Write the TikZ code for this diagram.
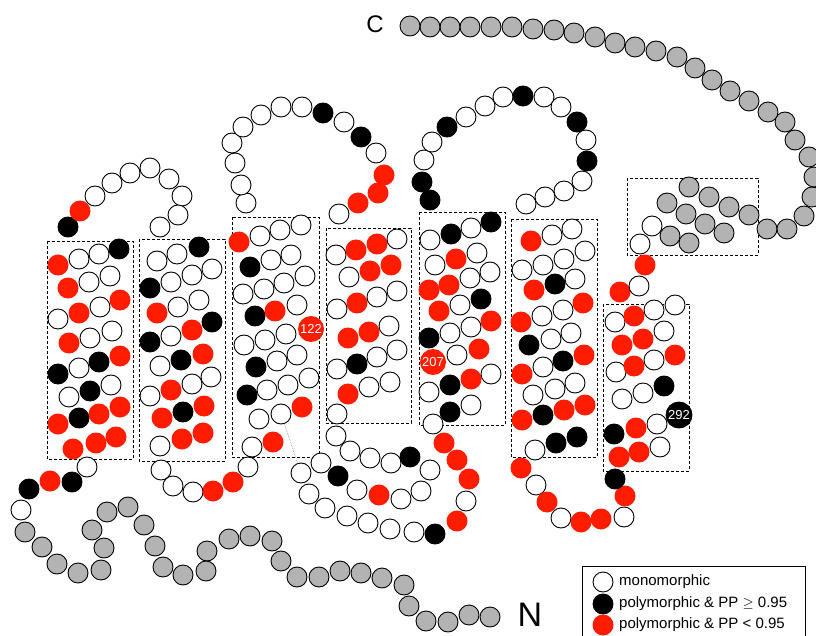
\documentclass[tikz,border=0pt]{standalone}
\usepackage{fontspec}
\setmainfont{Liberation Sans}
\usepackage{tikz}
\definecolor{resred}{RGB}{255,28,0}
\definecolor{tailgray}{RGB}{179,179,179}

\begin{document}
\begin{tikzpicture}[x=1pt,y=-1pt,
    res/.style={circle,inner sep=0pt,minimum size=20pt,line width=0.9pt},
    wt/.style={res,draw=black,fill=white},
    bk/.style={res,draw=black,fill=black},
    rd/.style={res,fill=resred,minimum size=21pt},
    gy/.style={res,draw=black,fill=tailgray},
    num/.style={minimum size=26pt,text=white,font=\fontsize{13}{13}\selectfont},
    tmbox/.style={line width=0.8pt,dash pattern=on 3pt off 2pt}]
  \useasboundingbox (0,0) rectangle (816,636);
  % helix boxes
  \foreach \xa/\ya/\xb/\yb in {47/241/133/459, 139/239/225/461, 232/217/319/457, 326/228/411/423,
      419/212/505/425, 511/219/597/457, 603/304/689/471, 627/178/758/255}
    \draw[tmbox] (\xa,\ya) rectangle (\xb,\yb);
  % N-terminus
  \foreach \x/\y [count=\i] in {490/617, 469/615, 448/622, 426/621, 409/606, 404/585, 382/578, 361/573,
      340/571, 319/577, 297/577, 281/561, 272/541, 250/536, 229/539, 207/551, 206/571, 183/575,
      163/567, 155/546, 144/525, 128/507, 107/512, 92/530, 104/548, 101/570, 78/573, 57/564,
      42/547, 25/532}
    \node[gy] (nt-\i) at (\x,\y) {};
  \foreach \x/\y/\s [count=\i] in {21/510/wt, 29/489/bk, 50/481/rd, 72/482/bk, 87/467/wt}
    \node[\s] (nl-\i) at (\x,\y) {};
  % TM1 and loop
  \foreach \x/\y/\s [count=\i] in {58/265/rd, 79/259/wt, 99/254/wt, 119/249/bk,
      68/288/rd, 89/282/wt, 110/276/wt,
      58/319/wt, 79/313/rd, 100/307/wt, 120/300/rd,
      69/343/rd, 90/338/wt, 112/331/wt,
      58/374/bk, 79/368/wt, 99/362/bk, 120/356/rd,
      69/397/wt, 90/391/bk, 111/385/wt,
      58/424/rd, 79/418/bk, 99/414/rd, 120/407/rd,
      73/449/rd, 96/443/rd, 116/437/rd}
    \node[\s] (tm1-\i) at (\x,\y) {};
  \foreach \x/\y/\s [count=\i] in {68/227/bk, 80/211/rd, 95/196/wt, 112/183/wt, 130/173/wt,
      150/168/wt, 169/179/wt, 182/196/wt, 178/215/wt, 160/227/wt}
    \node[\s] (l1-\i) at (\x,\y) {};
  % TM2 and loop
  \foreach \x/\y/\s [count=\i] in {157/261/wt, 177/254/wt, 199/247/bk,
      150/288/bk, 171/282/wt, 192/275/wt, 212/269/wt,
      157/313/rd, 178/307/wt, 199/300/wt,
      150/342/bk, 171/336/wt, 192/330/rd, 212/322/bk,
      160/366/wt, 181/360/bk, 203/354/rd,
      150/396/wt, 171/390/rd, 192/384/wt, 211/377/wt,
      162/418/rd, 183/412/bk, 204/406/rd,
      160/446/wt, 182/439/rd, 203/433/rd}
    \node[\s] (tm2-\i) at (\x,\y) {};
  \foreach \x/\y/\s [count=\i] in {161/470/wt, 173/486/wt, 193/492/wt, 213/491/rd, 233/482/rd, 248/467/wt}
    \node[\s] (l2-\i) at (\x,\y) {};
  % TM3 and loop
  \foreach \x/\y/\s [count=\i] in {239/242/rd, 260/236/wt, 280/230/wt, 301/225/wt,
      250/267/bk, 271/260/wt, 291/255/wt,
      243/294/wt, 264/289/wt, 284/283/wt, 305/276/wt,
      255/316/bk, 275/311/rd, 297/305/wt,
      244/345/wt, 265/340/wt, 286/334/wt,
      256/367/bk, 277/361/wt, 297/355/wt,
      247/395/bk, 267/390/wt, 288/385/wt, 309/378/wt,
      259/419/wt, 302/407/rd,
      252/447/wt, 273/442/rd}
    \node[\s] (tm3-\i) at (\x,\y) {};
  \node[rd,num] (r122) at (311,329) {122};
  \node[wt] (tm3cys) at (281,414) {};
  \foreach \x/\y/\s [count=\i] in {246/203/wt, 241/185/wt, 235/163/wt, 232/143/wt, 243/127/wt,
      261/115/wt, 281/107/wt, 302/107/wt, 323/113/bk, 344/122/wt, 361/137/bk, 376/153/wt,
      384/175/rd, 378/193/rd, 358/203/rd, 339/214/wt}
    \node[\s] (l3-\i) at (\x,\y) {};
  % TM4 and loop
  \foreach \x/\y/\s [count=\i] in {336/255/wt, 356/250/rd, 377/244/rd, 397/239/wt,
      349/277/wt, 370/271/rd, 391/265/rd,
      337/309/wt, 357/303/rd, 377/297/wt, 397/291/wt,
      348/338/rd, 369/332/rd, 389/326/wt,
      337/369/wt, 357/364/bk, 377/357/wt, 397/350/wt,
      348/394/rd, 369/387/wt, 390/382/wt,
      337/414/wt}
    \node[\s] (tm4-\i) at (\x,\y) {};
  \node[wt] (loopcys) at (301,473) {};
  \foreach \x/\y/\s [count=\i] in {336/436/wt, 350/451/wt, 370/458/wt, 391/463/wt, 410/457/bk,
      430/470/wt, 421/491/wt, 401/499/wt, 379/495/rd, 357/490/wt, 338/476/bk, 321/463/wt,
      309/494/wt, 325/508/wt, 347/516/wt, 368/523/wt, 390/529/wt, 414/532/wt, 435/534/bk,
      457/521/rd, 466/501/wt, 469/479/rd, 457/460/rd, 444/443/rd, 433/424/wt}
    \node[\s] (l4-\i) at (\x,\y) {};
  \draw[gray,line width=0.6pt,densely dotted] (tm3cys) -- (loopcys);
  % TM5 and loop
  \foreach \x/\y/\s [count=\i] in {430/240/wt, 451/234/bk, 471/228/wt, 491/222/bk,
      435/265/wt, 456/259/rd, 477/253/wt,
      429/290/rd, 449/285/rd, 470/278/wt, 490/272/wt,
      439/311/rd, 460/305/wt, 481/299/bk,
      429/338/bk, 450/333/wt, 471/327/wt, 491/321/rd,
      457/355/wt, 479/349/rd,
      429/392/wt, 450/385/bk, 471/379/rd, 491/374/wt,
      450/412/bk, 471/405/wt}
    \node[\s] (tm5-\i) at (\x,\y) {};
  \node[rd,num] (r207) at (433,362) {207};
  \foreach \x/\y/\s [count=\i] in {430/200/bk, 422/182/bk, 424/160/wt, 432/142/wt, 447/127/bk,
      466/117/wt, 485/106/wt, 503/97/wt, 523/96/bk, 544/97/wt, 561/107/wt, 577/122/bk,
      586/140/wt, 587/161/bk, 582/181/wt, 564/191/wt, 545/197/wt, 526/204/wt}
    \node[\s] (l5-\i) at (\x,\y) {};
  % TM6 and loop
  \foreach \x/\y/\s [count=\i] in {531/241/rd, 552/235/wt, 572/229/wt,
      522/270/wt, 543/265/wt, 564/259/wt, 585/251/wt,
      534/290/rd, 555/284/bk, 575/279/wt,
      521/322/rd, 542/316/wt, 563/310/wt, 583/303/rd,
      529/345/bk, 551/339/wt, 571/333/wt,
      522/374/rd, 543/367/wt, 563/361/bk, 584/355/rd,
      533/395/wt, 555/389/wt, 575/383/wt,
      522/420/rd, 543/415/bk, 564/410/rd, 585/405/rd,
      535/450/wt, 556/443/bk, 577/437/bk}
    \node[\s] (tm6-\i) at (\x,\y) {};
  \foreach \x/\y/\s [count=\i] in {521/468/rd, 536/485/wt, 547/502/rd, 561/518/wt, 581/522/rd,
      601/519/rd, 624/517/wt, 625/496/rd, 615/479/bk}
    \node[\s] (l6-\i) at (\x,\y) {};
  % TM7, helix 8 and C-terminus
  \foreach \x/\y/\s [count=\i] in {615/322/wt, 634/316/rd, 654/310/wt, 675/305/wt,
      622/345/rd, 643/339/rd, 664/331/wt,
      616/372/wt, 634/366/rd, 654/360/wt, 675/355/rd,
      622/399/wt, 643/393/wt, 664/386/bk,
      614/434/bk, 636/428/rd, 657/424/wt,
      619/457/rd, 639/452/rd, 660/447/wt}
    \node[\s] (tm7-\i) at (\x,\y) {};
  \node[bk,num] (r292) at (679,415) {292};
  \foreach \x/\y/\s [count=\i] in {620/292/rd, 639/286/wt, 645/265/rd, 640/244/wt, 652/226/wt}
    \node[\s] (l7-\i) at (\x,\y) {};
  \foreach \x/\y [count=\i] in {670/236, 689/243, 667/203, 686/214, 705/224, 724/233,
      689/187, 709/197, 729/207, 749/215}
    \node[gy] (h8-\i) at (\x,\y) {};
  \foreach \x/\y [count=\i] in {767/229, 787/229, 804/216, 812/197, 814/177, 809/157, 795/140,
      785/122, 768/112, 749/101, 730/91, 712/80, 695/68, 677/57, 656/51, 635/47, 615/43,
      595/37, 574/33, 554/30, 533/29, 512/27, 491/27, 470/27, 450/27, 430/27, 410/26}
    \node[gy] (ct-\i) at (\x,\y) {};
  \node[font=\fontsize{24}{24}\selectfont] (cend) at (375,24) {C};
  \node[font=\fontsize{34}{34}\selectfont] (nend) at (530,615) {N};
  % legend
  \draw[line width=0.9pt] (582,566) rectangle (805,640);
  \foreach \y/\s/\txt [count=\i] in {582/wt/monomorphic, 604/bk/polymorphic \& PP $\geq$ 0.95,
      625/rd/polymorphic \& PP < 0.95} {
    \node[\s] (key-\i) at (603,\y) {};
    \node[anchor=west,inner sep=0pt,font=\fontsize{15}{15}\selectfont] (lab-\i) at (619,\y) {\txt};
  }
\end{tikzpicture}
\end{document}
